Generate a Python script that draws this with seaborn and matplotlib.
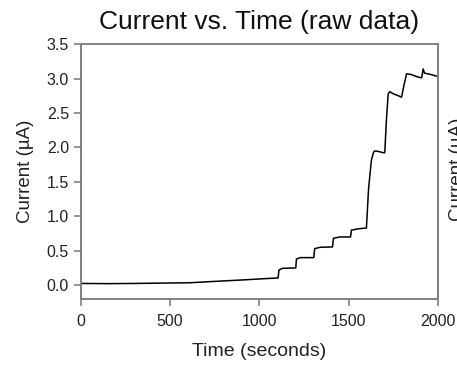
#!/usr/bin/env python3
## current vs time trace (raw data)

import matplotlib.pyplot as plt
import seaborn as sb
import pandas as pd

# time in seconds, current in uA
time_s = [0, 150, 300, 450, 611, 750, 900, 1000, 1105,
          1110, 1130, 1204,
          1208, 1230, 1305,
          1310, 1340, 1410,
          1415, 1450, 1511,
          1516, 1560, 1600,
          1612, 1628, 1640, 1647, 1670, 1700, 1703,
          1712, 1722, 1731, 1750, 1770, 1797,
          1810, 1825, 1850, 1880, 1909, 1918, 1925, 1960, 2000]
current_ua = [0.025, 0.022, 0.025, 0.03, 0.035, 0.055, 0.075, 0.09, 0.105,
              0.22, 0.245, 0.25,
              0.38, 0.40, 0.40,
              0.53, 0.55, 0.555,
              0.68, 0.70, 0.70,
              0.80, 0.82, 0.83,
              1.40, 1.82, 1.93, 1.95, 1.94, 1.92, 1.93,
              2.40, 2.78, 2.81, 2.78, 2.76, 2.73,
              2.90, 3.07, 3.06, 3.03, 3.01, 3.14, 3.08, 3.06, 3.03]

df = pd.DataFrame({"time": time_s, "current": current_ua})

sb.set_style("white")
plt.rcParams['font.family'] = ['Liberation Sans', 'DejaVu Sans']

fig = plt.figure(figsize=(4.57, 3.65), dpi=100)
ax = fig.add_axes([0.177, 0.181, 0.781, 0.698])
sb.lineplot(data=df, x="time", y="current", ax=ax, color="black",
            linewidth=1.1, sort=False, estimator=None)

ax.set_xlim(0, 2000)
ax.set_ylim(-0.2, 3.5)
ax.set_xticks([0, 500, 1000, 1500, 2000])
ax.set_yticks([0.0, 0.5, 1.0, 1.5, 2.0, 2.5, 3.0, 3.5])
ax.set_yticklabels(["0.0", "0.5", "1.0", "1.5", "2.0", "2.5", "3.0", "3.5"])

for s in ax.spines.values():
    s.set_color("#808080")
    s.set_linewidth(1.4)
ax.tick_params(direction="out", length=5, width=1.2, color="#808080",
               labelsize=11.5, labelcolor="#222222", left=True, bottom=True)
ax.tick_params(axis="x", pad=6)

ax.set_xlabel("Time (seconds)", fontsize=14, labelpad=10, color="#222222")
ax.set_ylabel("Current (\u00b5A)", fontsize=13.5, labelpad=9, color="#222222")
ax.set_title("Current vs. Time (raw data)", fontsize=19, pad=11, color="#111111")

# cut-off label of the neighbouring panel
fig.text(0.982, 0.535, "Current (\u00b5A)", rotation=90, fontsize=13.5,
         color="#222222", ha="left", va="center")

fig.savefig("out.png", dpi=100)
plt.close(fig)
